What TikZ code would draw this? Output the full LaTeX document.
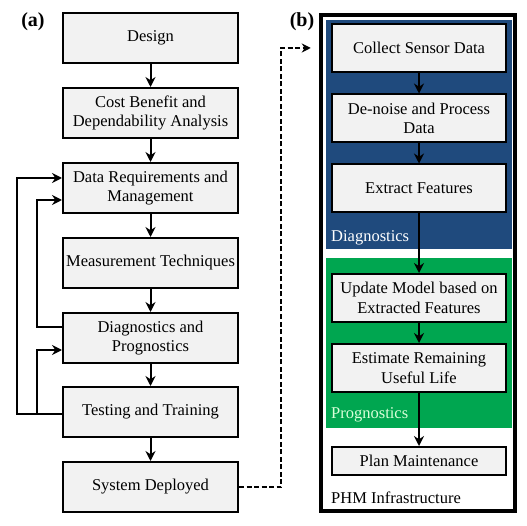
\documentclass[tikz,border=0pt]{standalone}
\usepackage{fontspec}
\setmainfont{Liberation Serif}
\usepackage{xcolor}
\usepackage{tikz}
\usetikzlibrary{arrows.meta, positioning, backgrounds}

\definecolor{diagblue}{RGB}{31,74,125}
\definecolor{proggreen}{RGB}{0,166,80}
\definecolor{boxgray}{RGB}{242,242,242}

\begin{document}
\begin{tikzpicture}[
    x=1pt, y=-1pt,
    box/.style={rectangle, draw, fill=boxgray, line width=2pt, minimum width=175pt, minimum height=50pt, inner xsep=1pt, align=center, font=\fontsize{16.5}{19.5}\selectfont},
    rbox/.style={box, minimum width=174pt, minimum height=48pt},
    arrow/.style={-{Stealth[length=10pt,width=10pt]}, line width=2pt},
    tag/.style={font=\fontsize{20}{24}\selectfont\bfseries},
    region/.style={anchor=west, font=\fontsize{16.5}{19.5}\selectfont, inner sep=0pt}
]
\useasboundingbox (0,0) rectangle (527,526);

% ==================== (a) DESIGN CYCLE ====================
\node[tag] (taga) at (33,22) {(a)};

\node[box] (design) at (150.5,38) {Design};
\node[box] (cost) at (150.5,113) {Cost Benefit and\\Dependability Analysis};
\node[box] (data) at (150.5,188) {Data Requirements and\\Management};
\node[box] (meas) at (150.5,263) {Measurement Techniques};
\node[box] (diag) at (150.5,338) {Diagnostics and\\Prognostics};
\node[box] (test) at (150.5,412) {Testing and Training};
\node[box] (deploy) at (150.5,487) {System Deployed};

% Arrows down the chain
\draw[arrow] (design) -- (cost);
\draw[arrow] (cost) -- (data);
\draw[arrow] (data) -- (meas);
\draw[arrow] (meas) -- (diag);
\draw[arrow] (diag) -- (test);
\draw[arrow] (test) -- (deploy);

% Feedback loops
\draw[arrow] ([yshift=-2pt]test.west) -- ++(-45,0) |- ([yshift=10pt]data.west);
\draw[arrow] ([yshift=11pt]diag.west) -- ++(-25,0) |- ([yshift=-12pt]data.west);
\draw[arrow] ([yshift=-2pt]test.west) -- ++(-25,0) |- ([yshift=-12pt]diag.west);

% ==================== (b) PHM INFRASTRUCTURE ====================
\node[tag] (tagb) at (302,22) {(b)};

% Frame and shaded regions
\node[draw, line width=4.5pt, minimum width=194pt, minimum height=496pt, inner sep=0pt] (phm) at (418,263) {};
\begin{scope}[on background layer]
    \fill[diagblue] (326,20) rectangle (512,249);
    \fill[proggreen] (326,258) rectangle (512,428);
\end{scope}

% Nodes
\node[rbox] (collect) at (419,48) {Collect Sensor Data};
\node[rbox] (denoise) at (419,118.5) {De-noise and Process\\Data};
\node[rbox] (extract) at (419,188.5) {Extract Features};
\node[rbox] (update) at (419,298) {Update Model based on\\Extracted Features};
\node[rbox] (rul) at (419,368) {Estimate Remaining\\Useful Life};
\node[rbox, minimum height=28pt] (plan) at (419,461) {Plan Maintenance};

% Region labels
\node[region, text=white] (diaglbl) at (331,238) {Diagnostics};
\node[region, text=green!15] (proglbl) at (331,415) {Prognostics};
\node[region] (phmlbl) at (331,498) {PHM Infrastructure};

% Arrows
\draw[arrow] (collect) -- (denoise);
\draw[arrow] (denoise) -- (extract);
\draw[arrow] (extract) -- (update);
\draw[arrow] (update) -- (rul);
\draw[arrow] (rul) -- (plan);

% ==================== DEPLOYMENT LINK ====================
\draw[-{Stealth[length=9pt,width=9pt]}, dash pattern=on 5pt off 2.5pt, line width=2pt, shorten >=8pt]
    (deploy.east) -- ++(42,0) |- (phm.west |- collect.west);

\end{tikzpicture}
\end{document}
